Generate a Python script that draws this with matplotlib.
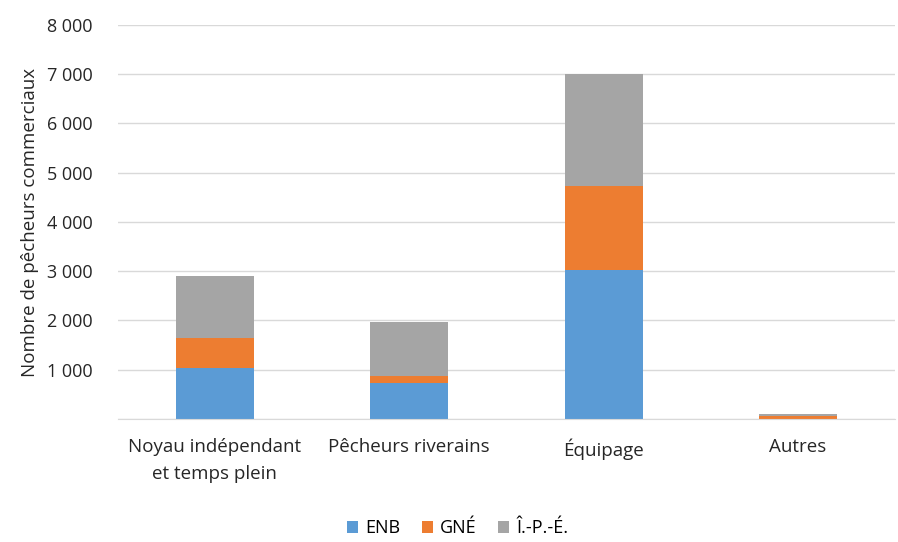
import matplotlib.pyplot as plt
import numpy as np
from matplotlib.ticker import FuncFormatter

categories = ["Noyau indépendant\net temps plein", "Pêcheurs riverains", "Équipage", "Autres"]
enb = [1030, 730, 3020, 0]
gne = [610, 140, 1710, 70]
ipe = [1260, 1100, 2270, 30]

plt.rcParams["font.family"] = ["Open Sans", "DejaVu Sans"]

fig = plt.figure(figsize=(8.98, 5.42), dpi=100)
ax = fig.add_axes([0.131, 0.227, 0.866, 0.727])

x = np.arange(len(categories))
w = 0.4
ax.bar(x, enb, width=w, color="#5b9bd5", label="ENB")
ax.bar(x, gne, width=w, bottom=enb, color="#ed7d31", label="GNÉ")
bottom2 = np.array(enb) + np.array(gne)
ax.bar(x, ipe, width=w, bottom=bottom2, color="#a5a5a5", label="Î.-P.-É.")

ax.set_ylim(0, 8000)
ax.set_xlim(-0.5, len(categories) - 0.5)
ax.set_yticks(np.arange(0, 8001, 1000))
ax.yaxis.set_major_formatter(FuncFormatter(lambda v, p: "" if v == 0 else f"{int(v):,}".replace(",", " ")))
ax.grid(axis="y", color="#d9d9d9", linewidth=1)
ax.set_axisbelow(True)
for s in ["top", "right", "left"]:
    ax.spines[s].set_visible(False)
ax.spines["bottom"].set_color("#d9d9d9")
ax.tick_params(axis="y", length=0, labelsize=13, colors="#262626", pad=18)
ax.tick_params(axis="x", length=0, labelsize=13.5, colors="#262626", pad=14)
ax.set_xticks(x)
ax.set_xticklabels(categories, linespacing=1.6)
ax.set_ylabel("Nombre de pêcheurs commerciaux", fontsize=13.5, color="#262626", labelpad=6)

fig.legend(loc="center", ncol=3, frameon=False, fontsize=13,
           handlelength=0.6, handleheight=0.6, columnspacing=1.2, handletextpad=0.4,
           bbox_to_anchor=(0.51, 0.025))

plt.savefig("out.png", dpi=100)
